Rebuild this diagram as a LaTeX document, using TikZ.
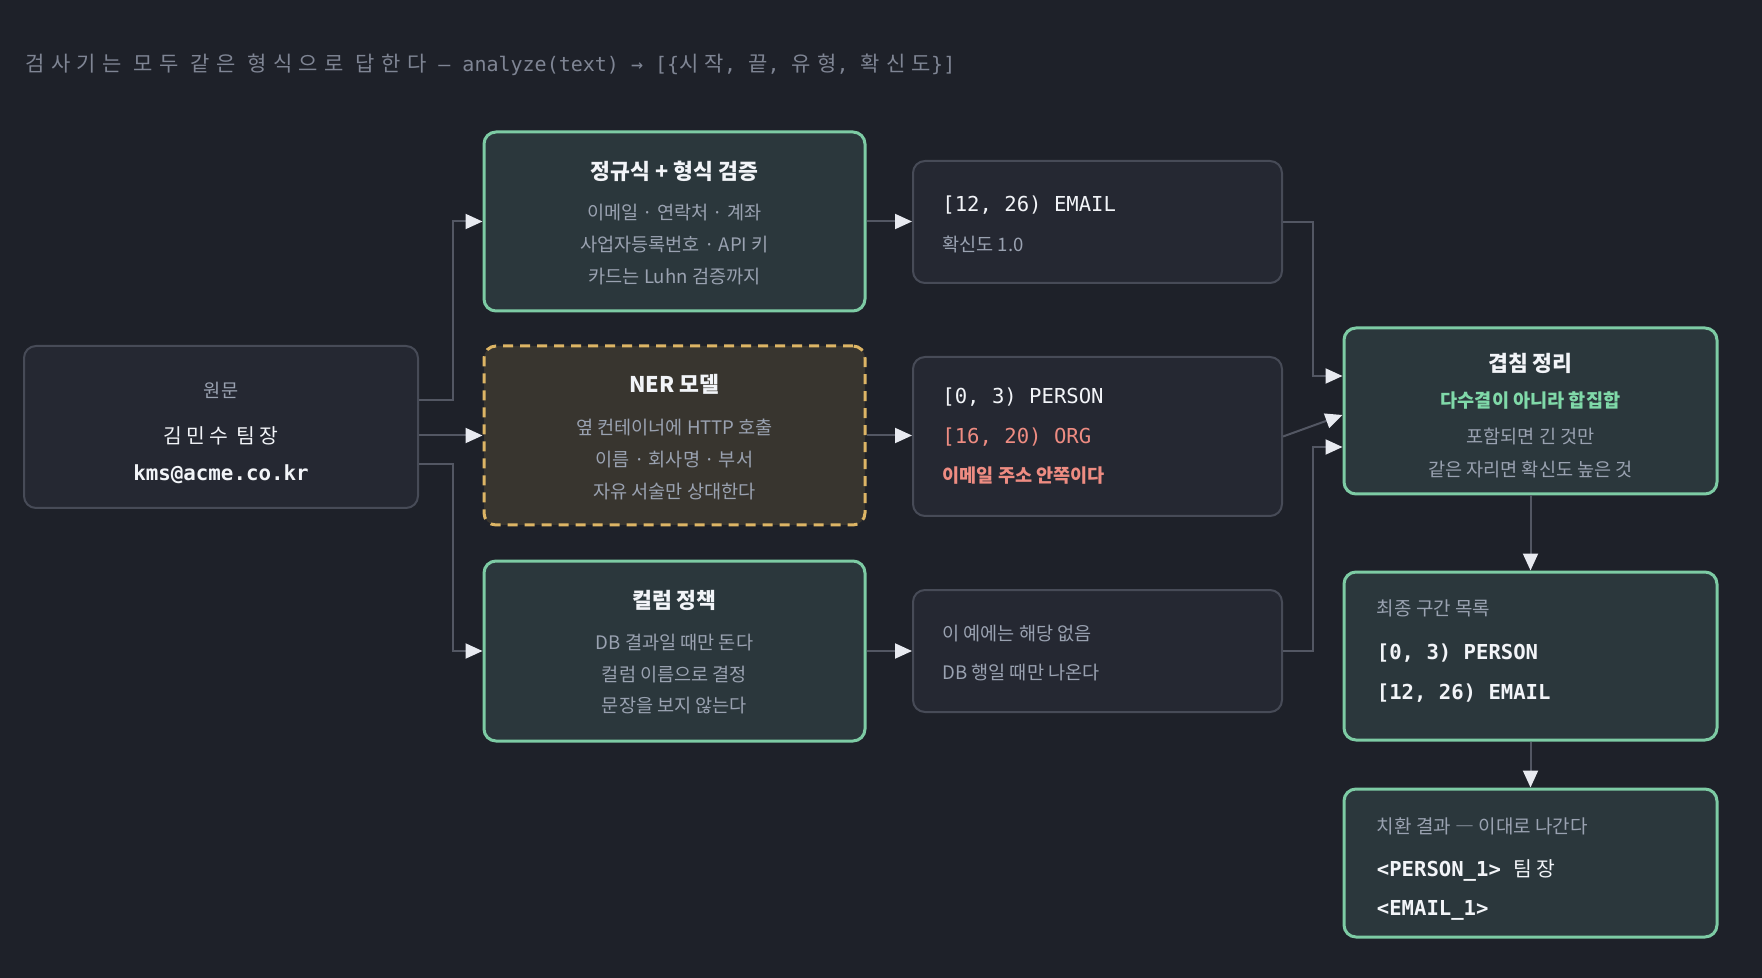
\documentclass[tikz,border=0pt]{standalone}
\usepackage{fontspec}
\setmainfont{Noto Sans CJK KR}
\newfontfamily\monofont{DejaVu Sans Mono}
\newfontfamily\kowide{Noto Sans CJK KR}[LetterSpace=20]
\newfontfamily\kohead{Noto Sans CJK KR}[LetterSpace=30]
\usetikzlibrary{arrows.meta,positioning}

\definecolor{bgdark}{HTML}{1E2129}
\definecolor{boxfill}{HTML}{252832}
\definecolor{boxline}{HTML}{474B57}
\definecolor{okfill}{HTML}{2B373C}
\definecolor{mint}{HTML}{7DCBA4}
\definecolor{nerfill}{HTML}{38352F}
\definecolor{gold}{HTML}{DDB565}
\definecolor{wire}{HTML}{535763}
\definecolor{tip}{HTML}{E8EAF0}
\definecolor{muted}{HTML}{9AA2B1}
\definecolor{headgray}{HTML}{7F8594}
\definecolor{bright}{HTML}{F2F4F8}
\definecolor{salmon}{HTML}{EE8C82}
\definecolor{greentext}{HTML}{80D9A9}

\newcommand\boxhead[1]{{\color{bright}\bfseries\fontsize{10.8}{12}\selectfont #1}}
\newcommand\spanline[1]{{\fontsize{10.3}{12}\monofont #1}}
\newcommand\kw[1]{{\fontsize{10.5}{12}\kohead #1}}

\tikzset{
  box/.style={rounded corners=6pt, inner sep=0pt},
  plainbox/.style={box, draw=boxline, fill=boxfill, line width=1pt},
  okbox/.style={box, draw=mint, fill=okfill, line width=1.5pt},
  nerbox/.style={box, draw=gold, fill=nerfill, line width=1.5pt, dash pattern=on 5pt off 3.5pt},
  stage/.style={minimum width=190.5pt, minimum height=89.5pt},
  result/.style={plainbox, minimum width=184.5pt},
  outbox/.style={okbox, minimum width=186.5pt},
  boxtext/.style={inner sep=0pt, align=center, text=muted},
  linetext/.style={inner sep=0pt, align=left, anchor=west, text=muted},
  link/.style={draw=wire, line width=1pt, -{Triangle[length=8.5pt,width=7.5pt,color=tip]}},
}

\begin{document}
\begin{tikzpicture}[x=0.5pt, y=-0.5pt]
  \fill[bgdark] (0,0) rectangle (1762,978);
  \useasboundingbox (0,0) rectangle (1762,978);

  \node[anchor=west, inner sep=0pt, text=headgray, font=\monofont\fontsize{10}{12}\selectfont] (head) at (25,65)
    {\kw{검사기는} \kw{모두} \kw{같은} \kw{형식으로} \kw{답한다} — analyze(text) → [\{\kw{시작}, \kw{끝}, \kw{유형}, \kw{확신도}\}]};

  \node[plainbox, minimum width=197pt, minimum height=81pt] (src) at (221,427) {};
  \node[okbox, stage] (rgx) at (674.5,221.5) {};
  \node[nerbox, stage] (ner) at (674.5,435.5) {};
  \node[okbox, stage, minimum height=90pt] (col) at (674.5,651) {};
  \node[result, minimum height=61pt] (resE) at (1097.5,222) {};
  \node[result, minimum height=79.5pt] (resN) at (1097.5,436.5) {};
  \node[result, minimum height=61pt] (resC) at (1097.5,651) {};
  \node[okbox, minimum width=186.5pt, minimum height=83pt] (merge) at (1530.5,411) {};
  \node[outbox, minimum height=84pt] (final) at (1530.5,656) {};
  \node[outbox, minimum height=74pt] (subst) at (1530.5,863) {};

  \node[boxtext, font=\fontsize{9.3}{18.5}\selectfont] (srcTxt) at ([yshift=-3pt]src.center)
    {원문\\[4.5pt]{\kowide\color{bright}\fontsize{10.2}{12}\selectfont 김민수 팀장}\\{\fontsize{10.4}{12}\monofont\bfseries\color{bright}kms@acme.co.kr}};
  \node[boxtext, font=\fontsize{9.3}{16}\selectfont] (rgxTxt) at ([yshift=-0.9pt]rgx.center)
    {\boxhead{정규식 + 형식 검증}\\[4pt]이메일 · 연락처 · 계좌\\사업자등록번호 · API 키\\카드는 Luhn 검증까지};
  \node[boxtext, font=\fontsize{9.3}{16.2}\selectfont] (nerTxt) at ([yshift=-1pt]ner.center)
    {\boxhead{NER 모델}\\[4.5pt]옆 컨테이너에 HTTP 호출\\이름 · 회사명 · 부서\\자유 서술만 상대한다};
  \node[boxtext, font=\fontsize{9.3}{15.8}\selectfont] (colTxt) at ([yshift=-0.6pt]col.center)
    {\boxhead{컬럼 정책}\\[5pt]DB 결과일 때만 돈다\\컬럼 이름으로 결정\\문장을 보지 않는다};

  \node[linetext, font=\fontsize{9.3}{20}\selectfont] (resETxt) at ([xshift=15pt,yshift=-1.4pt]resE.west)
    {\spanline{\color{bright}[12, 26) EMAIL}\\확신도 1.0};
  \node[linetext, font=\fontsize{9.3}{19.75}\selectfont] (resNTxt) at ([xshift=15pt]resN.west)
    {\spanline{\color{bright}[0, 3) PERSON}\\\spanline{\color{salmon}[16, 20) ORG}\\{\color{salmon}\bfseries 이메일 주소 안쪽이다}};
  \node[linetext, font=\fontsize{9.3}{19.5}\selectfont] (resCTxt) at ([xshift=15pt,yshift=-0.8pt]resC.west)
    {이 예에는 해당 없음\\DB 행일 때만 나온다};

  \node[boxtext, font=\fontsize{9.3}{16.5}\selectfont] (mergeTxt) at ([yshift=-2.5pt]merge.center)
    {\boxhead{겹침 정리}\\[1.5pt]{\color{greentext}\bfseries 다수결이 아니라 합집합}\\[1.5pt]포함되면 긴 것만\\같은 자리면 확신도 높은 것};
  \node[linetext, font=\fontsize{9.5}{20}\selectfont] (finalTxt) at ([xshift=17pt,yshift=2.5pt]final.west)
    {최종 구간 목록\\[2pt]\spanline{\bfseries\color{bright}[0, 3) PERSON}\\\spanline{\bfseries\color{bright}[12, 26) EMAIL}};
  \node[linetext, font=\fontsize{9.5}{19.5}\selectfont] (substTxt) at ([xshift=17pt,yshift=-3.2pt]subst.west)
    {치환 결과 ― 이대로 나간다\\[2pt]\spanline{\bfseries\color{bright}<PERSON\_1> }{\kowide\color{bright}\fontsize{10.2}{12}\selectfont 팀장}\\\spanline{\bfseries\color{bright}<EMAIL\_1>}};

  \coordinate (splitL) at (453,427);
  \coordinate (splitR) at (1313,436);

  \draw[link] ([yshift=13.5pt]src.east) -- ([yshift=13.5pt]src.east -| splitL) |- (rgx.west);
  \draw[link] (src.east |- ner.west) -- (ner.west);
  \draw[link] ([yshift=-18.5pt]src.east) -- ([yshift=-18.5pt]src.east -| splitL) |- (col.west);
  \draw[link] (rgx.east) -- (rgx.east -| resE.west);
  \draw[link] (ner.east) -- (ner.east -| resN.west);
  \draw[link] (col.east) -- (col.east -| resC.west);
  \draw[link] (resE.east) -- (resE.east -| splitR) |- ([yshift=17.5pt]merge.west);
  \draw[link] (resN.east) -- ([yshift=-2pt]merge.west);
  \draw[link] (resC.east) -- (resC.east -| splitR) |- ([yshift=-18pt]merge.west);
  \draw[link] (merge.south) -- (final.north);
  \draw[link] (final.south) -- (subst.north);
\end{tikzpicture}
\end{document}
